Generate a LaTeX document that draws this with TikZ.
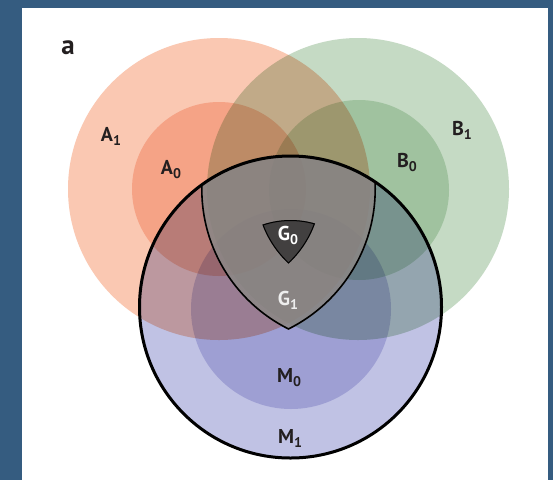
\documentclass[tikz,border=0pt]{standalone}
\usepackage{fontspec}
\setmainfont{PT Sans}
\definecolor{framebg}{RGB}{53,92,128}
\definecolor{aout}{RGB}{250,200,178}
\definecolor{ain}{RGB}{250,208,192}
\definecolor{bout}{RGB}{197,218,196}
\definecolor{bin}{RGB}{208,227,208}
\definecolor{mout}{RGB}{192,194,228}
\definecolor{min}{RGB}{210,210,236}
\definecolor{gone}{RGB}{140,136,134}
\definecolor{gzero}{RGB}{66,64,64}
\definecolor{ink}{RGB}{35,31,32}
\newcommand{\setlbl}[2]{#1\raisebox{-4pt}{\fontsize{14}{14}\selectfont #2}}
\begin{document}
\begin{tikzpicture}[x=1pt,y=-1pt,
  lbl/.style={anchor=base,inner sep=0pt,text=ink,font=\fontsize{20}{20}\selectfont\bfseries},
  glbl/.style={lbl,text=white}]
\useasboundingbox (0,0) rectangle (553,480);
% panel frame
\fill[framebg] (0,0) rectangle (553,480);
\fill[white] (22,8) rectangle (548,480);

% circle centres
\coordinate (A) at (219,189);
\coordinate (B) at (358,189);
\coordinate (M) at (290.5,307);
\coordinate (M0c) at (291,309);

% overlapping sets, mixed multiplicatively
\begin{scope}[blend group=multiply]
  \fill[aout] (A) circle[radius=151pt];
  \fill[ain]  (A) circle[radius=87pt];
  \fill[bout] (B) circle[radius=151pt];
  \fill[bin]  (359,190) circle[radius=90pt];
  \fill[mout] (M) circle[radius=151pt];
  \fill[min]  (M0c) circle[radius=100pt];
\end{scope}

% G1 region
\begin{scope}
  \clip (A) circle[radius=157pt];
  \clip (B) circle[radius=157pt];
  \clip (M) circle[radius=151pt];
  \fill[gone,fill opacity=0.88] (M) circle[radius=151pt];
  \draw[line width=3.2pt] (A) circle[radius=157pt] (B) circle[radius=157pt];
\end{scope}

% G0 region
\begin{scope}
  \clip (A) circle[radius=102pt];
  \clip (B) circle[radius=102pt];
  \clip (M) circle[radius=87pt];
  \fill[gzero] (M) circle[radius=87pt];
  \draw[line width=2pt] (A) circle[radius=102pt] (B) circle[radius=102pt] (M) circle[radius=87pt];
\end{scope}

% outline of M1
\draw[line width=3pt] (M) circle[radius=151pt];

% labels
\node[lbl,font=\fontsize{27}{27}\selectfont\bfseries] (la) at (68,54) {a};
\node[lbl] (lA1) at (111,141.5) {\setlbl{A}{1}};
\node[lbl] (lA0) at (171,174) {\setlbl{A}{0}};
\node[lbl] (lB1) at (462,135) {\setlbl{B}{1}};
\node[lbl] (lB0) at (407,167) {\setlbl{B}{0}};
\node[glbl] (lG0) at (288,240) {\setlbl{G}{0}};
\node[glbl,text={rgb,255:red,238;green,238;blue,238}] (lG1) at (288,305) {\setlbl{G}{1}};
\node[lbl] (lM0) at (289,382) {\setlbl{M}{0}};
\node[lbl] (lM1) at (290,443) {\setlbl{M}{1}};
\end{tikzpicture}
\end{document}
